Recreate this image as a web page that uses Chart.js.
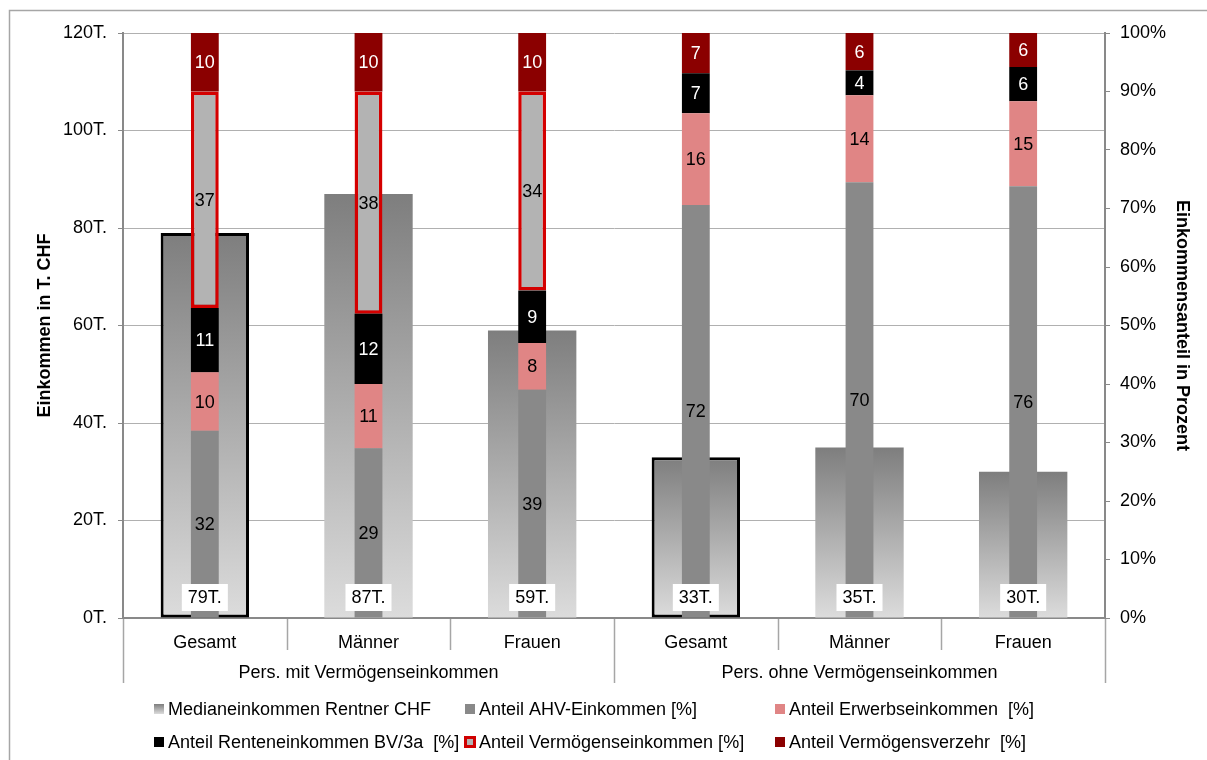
<!DOCTYPE html>
<html lang="de">
<head>
<meta charset="utf-8">
<title>Einkommen Rentner</title>
<script src="https://cdn.jsdelivr.net/npm/chart.js@4.4.1/dist/chart.umd.min.js"></script>
<style>
    html, body { margin: 0; padding: 0; background: #fff; }
    #wrap { width: 1207px; height: 760px; position: relative; }
</style>
</head>
<body>
<div id="wrap"><canvas id="chart"></canvas></div>
<script>
const categories = ['Gesamt', 'Männer', 'Frauen', 'Gesamt', 'Männer', 'Frauen'];
const groupLabels = ['Pers. mit Vermögenseinkommen', 'Pers. ohne Vermögenseinkommen'];
const groupSize = 3;

// Median income, thousand CHF
const medianIncome = [79, 87, 59, 33, 35, 30];

// Income shares in percent (as reported, rounded)
const shareAHV = [32, 29, 39, 72, 70, 76];
const shareErwerb = [10, 11, 8, 16, 14, 15];
const shareRente = [11, 12, 9, 7, 4, 6];
const shareVermoegen = [37, 38, 34, null, null, null];
const shareVerzehr = [10, 10, 10, 7, 6, 6];

const incomeMax = 120;
const incomeStep = 20;
const shareMax = 100;
const shareStep = 10;

const FONT = '"Liberation Sans", Arial, sans-serif';
const FONT_SIZE = 18;
const AXIS_GRAY = '#898989';

// each column is drawn as a 100% stack, so scale the rounded shares by their sum
const shareSeries = [shareAHV, shareErwerb, shareRente, shareVermoegen, shareVerzehr];
const shareTotals = categories.map((_, i) =>
    shareSeries.reduce((sum, arr) => sum + (arr[i] || 0), 0));
const toPercent = arr => arr.map((v, i) => v == null ? null : v / shareTotals[i] * 100);

const legendItems = [
    { text: 'Medianeinkommen Rentner CHF', kind: 'gradient' },
    { text: 'Anteil AHV-Einkommen [%]', fill: '#898989' },
    { text: 'Anteil Erwerbseinkommen  [%]', fill: '#e08585' },
    { text: 'Anteil Renteneinkommen BV/3a  [%]', fill: '#000000' },
    { text: 'Anteil Vermögenseinkommen [%]', fill: '#b3b3b3', stroke: '#d00000' },
    { text: 'Anteil Vermögensverzehr  [%]', fill: '#8b0000' }
];

function medianGradient(ctx) {
    const chart = ctx.chart;
    if (!chart.chartArea || ctx.type !== 'data') return '#a0a0a0';
    const yScale = chart.scales.yIncome;
    const top = yScale.getPixelForValue(ctx.parsed.y);
    const base = yScale.getPixelForValue(0);
    const g = chart.ctx.createLinearGradient(0, top, 0, base);
    g.addColorStop(0, '#7e7e7e');
    g.addColorStop(1, '#dcdcdc');
    return g;
}

function shareDataset(label, values, color, textColor, extra) {
    return Object.assign({
        label: label,
        data: toPercent(values),
        rawValues: values,
        labelColor: textColor,
        backgroundColor: color,
        yAxisID: 'yShare',
        stack: 'share',
        grouped: false,
        categoryPercentage: 1,
        barPercentage: 0.17,
        borderWidth: 0
    }, extra || {});
}

// Segment values, median boxes, two-level category axis, legend and frame
const decorations = {
    id: 'decorations',
    afterDatasetsDraw(chart) {
        const ctx = chart.ctx;
        ctx.save();
        ctx.font = FONT_SIZE + 'px ' + FONT;
        ctx.textAlign = 'center';
        ctx.textBaseline = 'middle';
        chart.data.datasets.forEach((ds, di) => {
            const meta = chart.getDatasetMeta(di);
            meta.data.forEach((bar, i) => {
                const v = ds.rawValues[i];
                if (v == null) return;
                if (ds.yAxisID === 'yShare') {
                    ctx.fillStyle = ds.labelColor;
                    ctx.fillText(String(v), bar.x, (bar.y + bar.base) / 2 + 1);
                } else {
                    const text = v + 'T.';
                    const w = ctx.measureText(text).width + 12;
                    const cy = bar.base - 20;
                    ctx.fillStyle = '#ffffff';
                    ctx.fillRect(bar.x - w / 2, cy - 13.5, w, 27);
                    ctx.fillStyle = '#000000';
                    ctx.fillText(text, bar.x, cy + 1);
                }
            });
        });
        ctx.restore();
    },
    afterDraw(chart) {
        const ctx = chart.ctx;
        const xScale = chart.scales.x;
        const area = chart.chartArea;
        const step = (area.right - area.left) / categories.length;
        ctx.save();

        // separators of the category axis
        ctx.strokeStyle = '#a6a6a6';
        ctx.lineWidth = 1.5;
        for (let i = 0; i <= categories.length; i++) {
            const x = Math.round(area.left + i * step) + 0.5;
            const isGroupEdge = i % groupSize === 0;
            ctx.beginPath();
            ctx.moveTo(x, area.bottom + 1);
            ctx.lineTo(x, area.bottom + (isGroupEdge ? 65 : 32));
            ctx.stroke();
        }

        ctx.font = FONT_SIZE + 'px ' + FONT;
        ctx.fillStyle = '#000000';
        ctx.textAlign = 'center';
        ctx.textBaseline = 'middle';
        groupLabels.forEach((label, g) => {
            const first = xScale.getPixelForValue(g * groupSize);
            const last = xScale.getPixelForValue(g * groupSize + groupSize - 1);
            ctx.fillText(label, (first + last) / 2, area.bottom + 55);
        });

        // legend, three columns
        const colX = [154, 465, 775];
        const rowY = [709, 742];
        ctx.textAlign = 'left';
        legendItems.forEach((item, k) => {
            const x = colX[k % 3];
            const y = rowY[Math.floor(k / 3)];
            if (item.kind === 'gradient') {
                const g = ctx.createLinearGradient(0, y - 5, 0, y + 5);
                g.addColorStop(0, '#7e7e7e');
                g.addColorStop(1, '#dcdcdc');
                ctx.fillStyle = g;
                ctx.fillRect(x, y - 5, 10, 10);
            } else if (item.stroke) {
                ctx.fillStyle = item.stroke;
                ctx.fillRect(x - 1, y - 6, 12, 12);
                ctx.fillStyle = item.fill;
                ctx.fillRect(x + 2, y - 3, 6, 6);
            } else {
                ctx.fillStyle = item.fill;
                ctx.fillRect(x, y - 5, 10, 10);
            }
            ctx.fillStyle = '#000000';
            ctx.fillText(item.text, x + 14, y + 1);
        });

        // outer frame
        ctx.strokeStyle = '#a6a6a6';
        ctx.lineWidth = 1.5;
        ctx.strokeRect(9.5, 10.5, 1200, 760);
        ctx.restore();
    }
};

Chart.defaults.font.family = FONT;
Chart.defaults.font.size = FONT_SIZE;
Chart.defaults.color = '#000000';

new Chart(document.getElementById('chart'), {
    type: 'bar',
    data: {
        labels: categories,
        datasets: [
            shareDataset('Anteil AHV-Einkommen [%]', shareAHV, '#898989', '#000000'),
            shareDataset('Anteil Erwerbseinkommen  [%]', shareErwerb, '#e08585', '#000000'),
            shareDataset('Anteil Renteneinkommen BV/3a  [%]', shareRente, '#000000', '#ffffff'),
            shareDataset('Anteil Vermögenseinkommen [%]', shareVermoegen, '#b3b3b3', '#000000', {
                borderColor: '#d40000',
                borderWidth: 3.5,
                borderSkipped: false
            }),
            shareDataset('Anteil Vermögensverzehr  [%]', shareVerzehr, '#8b0000', '#ffffff'),
            {
                label: 'Medianeinkommen Rentner CHF',
                data: medianIncome,
                rawValues: medianIncome,
                yAxisID: 'yIncome',
                grouped: false,
                categoryPercentage: 1,
                barPercentage: 0.54,
                backgroundColor: medianGradient,
                borderColor: '#000000',
                borderWidth: ctx => categories[ctx.dataIndex] === 'Gesamt' ? 3 : 0,
                borderSkipped: false
            }
        ]
    },
    options: {
        responsive: true,
        maintainAspectRatio: false,
        animation: false,
        events: [],
        layout: { padding: { top: 33, left: 0, right: 0, bottom: 0 } },
        plugins: {
            legend: { display: false },
            tooltip: { enabled: false }
        },
        scales: {
            x: {
                type: 'category',
                offset: true,
                grid: { display: false },
                border: { display: true, color: AXIS_GRAY, width: 2 },
                ticks: { padding: 6, maxRotation: 0, autoSkip: false, color: '#000000' },
                afterFit: scale => { scale.height = 142; }
            },
            yIncome: {
                type: 'linear',
                position: 'left',
                min: 0,
                max: incomeMax,
                grid: { color: '#b0b0b0', lineWidth: 1, tickLength: 5, tickColor: AXIS_GRAY },
                border: { color: AXIS_GRAY, width: 2 },
                ticks: { stepSize: incomeStep, padding: 11, callback: v => v + 'T.' },
                title: {
                    display: true,
                    text: 'Einkommen in T. CHF',
                    font: { size: FONT_SIZE, weight: 'bold' },
                    padding: 34
                },
                afterFit: scale => { scale.width = 123; }
            },
            yShare: {
                type: 'linear',
                position: 'right',
                min: 0,
                max: shareMax,
                stacked: true,
                grid: { drawOnChartArea: false, tickLength: 5, color: AXIS_GRAY },
                border: { color: AXIS_GRAY, width: 2 },
                ticks: { stepSize: shareStep, padding: 10, callback: v => v + '%' },
                title: {
                    display: true,
                    text: 'Einkommensanteil in Prozent',
                    font: { size: FONT_SIZE, weight: 'bold' },
                    padding: 14
                },
                afterFit: scale => { scale.width = 102; }
            }
        }
    },
    plugins: [decorations]
});
</script>
</body>
</html>
